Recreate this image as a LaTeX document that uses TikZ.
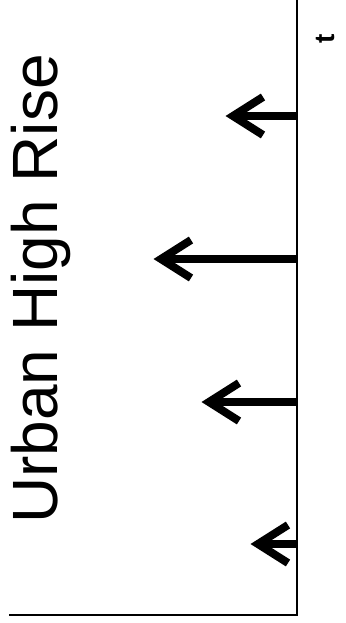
\documentclass[tikz,border=0pt]{standalone}
\usepackage{fontspec}
\setmainfont{Liberation Sans}
\begin{document}
\begin{tikzpicture}[x=1pt,y=-1pt,
  axis/.style={line width=1.1pt, line cap=rect},
  shaft/.style={line width=8pt},
  barb/.style={line width=8pt, line join=miter, miter limit=10},
  title/.style={rotate=90, anchor=base, inner sep=0pt, font=\fontsize{64}{70}\selectfont},
  tlabel/.style={rotate=90, anchor=base, inner sep=0pt, font=\fontsize{28}{32}\selectfont\bfseries}]
\useasboundingbox (0,0) rectangle (345,623);
% axes
\coordinate (top) at (297,0);
\coordinate (corner) at (297,615);
\coordinate (left) at (10,615);
\draw[axis] (top) -- (corner) -- (left);
% labels
\node[title] (ttl) at (57,289) {Urban High Rise};
\node[tlabel] (tl) at (334,39) {t};
% arrows
\foreach \i/\y/\tx in {1/116/233, 2/259/161, 3/402/209, 4/544/258}{
  \coordinate (s\i) at (297,\y);
  \coordinate (t\i) at (\tx,\y);
  \coordinate (u\i) at (\tx+30,\y-19);
  \coordinate (d\i) at (\tx+30,\y+19);
  \draw[shaft] (s\i) -- (t\i);
  \draw[barb] (u\i) -- (t\i) -- (d\i);
}
\end{tikzpicture}
\end{document}
